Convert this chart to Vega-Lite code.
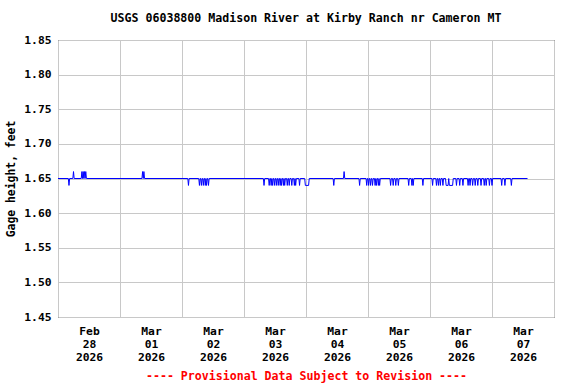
{
  "$schema": "https://vega.github.io/schema/vega-lite/v6.json",
  "width": 496,
  "height": 277,
  "autosize": "none",
  "padding": {"left": 58, "top": 40, "right": 22, "bottom": 67},
  "background": "white",
  "title": {
    "text": "USGS 06038800 Madison River at Kirby Ranch nr Cameron MT",
    "font": "DejaVu Sans Mono",
    "fontSize": 11.6,
    "fontWeight": "bold",
    "color": "black",
    "anchor": "middle",
    "offset": 9
  },
  "data": {
    "values": [
      {"t": "2026-02-28T00:00", "v": 1.65},
      {"t": "2026-02-28T04:00", "v": 1.65},
      {"t": "2026-02-28T04:15", "v": 1.64},
      {"t": "2026-02-28T04:30", "v": 1.65},
      {"t": "2026-02-28T05:45", "v": 1.65},
      {"t": "2026-02-28T06:00", "v": 1.66},
      {"t": "2026-02-28T06:15", "v": 1.65},
      {"t": "2026-02-28T09:00", "v": 1.65},
      {"t": "2026-02-28T09:15", "v": 1.66},
      {"t": "2026-02-28T09:30", "v": 1.65},
      {"t": "2026-02-28T09:45", "v": 1.66},
      {"t": "2026-02-28T10:00", "v": 1.65},
      {"t": "2026-02-28T10:15", "v": 1.66},
      {"t": "2026-02-28T10:30", "v": 1.65},
      {"t": "2026-02-28T10:45", "v": 1.66},
      {"t": "2026-02-28T11:00", "v": 1.65},
      {"t": "2026-03-01T08:30", "v": 1.65},
      {"t": "2026-03-01T08:45", "v": 1.66},
      {"t": "2026-03-01T09:00", "v": 1.65},
      {"t": "2026-03-01T09:15", "v": 1.66},
      {"t": "2026-03-01T09:30", "v": 1.65},
      {"t": "2026-03-02T02:15", "v": 1.65},
      {"t": "2026-03-02T02:30", "v": 1.64},
      {"t": "2026-03-02T02:45", "v": 1.65},
      {"t": "2026-03-02T06:30", "v": 1.65},
      {"t": "2026-03-02T06:45", "v": 1.64},
      {"t": "2026-03-02T07:00", "v": 1.65},
      {"t": "2026-03-02T07:15", "v": 1.65},
      {"t": "2026-03-02T07:30", "v": 1.64},
      {"t": "2026-03-02T07:45", "v": 1.65},
      {"t": "2026-03-02T08:00", "v": 1.65},
      {"t": "2026-03-02T08:15", "v": 1.64},
      {"t": "2026-03-02T08:30", "v": 1.65},
      {"t": "2026-03-02T08:45", "v": 1.65},
      {"t": "2026-03-02T09:00", "v": 1.64},
      {"t": "2026-03-02T09:15", "v": 1.65},
      {"t": "2026-03-02T09:30", "v": 1.64},
      {"t": "2026-03-02T09:45", "v": 1.65},
      {"t": "2026-03-02T10:00", "v": 1.65},
      {"t": "2026-03-02T10:15", "v": 1.64},
      {"t": "2026-03-02T10:30", "v": 1.65},
      {"t": "2026-03-03T07:30", "v": 1.65},
      {"t": "2026-03-03T07:45", "v": 1.64},
      {"t": "2026-03-03T08:00", "v": 1.65},
      {"t": "2026-03-03T09:30", "v": 1.65},
      {"t": "2026-03-03T09:45", "v": 1.64},
      {"t": "2026-03-03T10:00", "v": 1.65},
      {"t": "2026-03-03T10:15", "v": 1.65},
      {"t": "2026-03-03T10:30", "v": 1.64},
      {"t": "2026-03-03T10:45", "v": 1.65},
      {"t": "2026-03-03T11:00", "v": 1.64},
      {"t": "2026-03-03T11:15", "v": 1.65},
      {"t": "2026-03-03T11:30", "v": 1.65},
      {"t": "2026-03-03T11:45", "v": 1.64},
      {"t": "2026-03-03T12:00", "v": 1.65},
      {"t": "2026-03-03T12:15", "v": 1.65},
      {"t": "2026-03-03T12:30", "v": 1.64},
      {"t": "2026-03-03T12:45", "v": 1.65},
      {"t": "2026-03-03T13:00", "v": 1.65},
      {"t": "2026-03-03T13:15", "v": 1.64},
      {"t": "2026-03-03T13:30", "v": 1.65},
      {"t": "2026-03-03T13:45", "v": 1.65},
      {"t": "2026-03-03T14:00", "v": 1.64},
      {"t": "2026-03-03T14:15", "v": 1.65},
      {"t": "2026-03-03T14:30", "v": 1.64},
      {"t": "2026-03-03T14:45", "v": 1.65},
      {"t": "2026-03-03T15:00", "v": 1.65},
      {"t": "2026-03-03T15:15", "v": 1.64},
      {"t": "2026-03-03T15:30", "v": 1.65},
      {"t": "2026-03-03T15:45", "v": 1.64},
      {"t": "2026-03-03T16:00", "v": 1.65},
      {"t": "2026-03-03T16:30", "v": 1.65},
      {"t": "2026-03-03T16:45", "v": 1.64},
      {"t": "2026-03-03T17:00", "v": 1.65},
      {"t": "2026-03-03T17:15", "v": 1.65},
      {"t": "2026-03-03T17:30", "v": 1.64},
      {"t": "2026-03-03T17:45", "v": 1.65},
      {"t": "2026-03-03T18:15", "v": 1.65},
      {"t": "2026-03-03T18:30", "v": 1.64},
      {"t": "2026-03-03T18:45", "v": 1.65},
      {"t": "2026-03-03T19:15", "v": 1.65},
      {"t": "2026-03-03T19:30", "v": 1.64},
      {"t": "2026-03-03T19:45", "v": 1.65},
      {"t": "2026-03-03T20:00", "v": 1.64},
      {"t": "2026-03-03T20:15", "v": 1.65},
      {"t": "2026-03-03T21:15", "v": 1.65},
      {"t": "2026-03-03T21:30", "v": 1.64},
      {"t": "2026-03-03T21:45", "v": 1.65},
      {"t": "2026-03-03T23:30", "v": 1.65},
      {"t": "2026-03-03T23:45", "v": 1.64},
      {"t": "2026-03-04T01:00", "v": 1.64},
      {"t": "2026-03-04T01:15", "v": 1.65},
      {"t": "2026-03-04T10:30", "v": 1.65},
      {"t": "2026-03-04T10:45", "v": 1.64},
      {"t": "2026-03-04T11:00", "v": 1.65},
      {"t": "2026-03-04T14:30", "v": 1.65},
      {"t": "2026-03-04T14:45", "v": 1.66},
      {"t": "2026-03-04T15:00", "v": 1.65},
      {"t": "2026-03-04T20:30", "v": 1.65},
      {"t": "2026-03-04T20:45", "v": 1.64},
      {"t": "2026-03-04T21:00", "v": 1.65},
      {"t": "2026-03-04T23:15", "v": 1.65},
      {"t": "2026-03-04T23:30", "v": 1.64},
      {"t": "2026-03-04T23:45", "v": 1.65},
      {"t": "2026-03-05T00:00", "v": 1.65},
      {"t": "2026-03-05T00:15", "v": 1.64},
      {"t": "2026-03-05T00:30", "v": 1.65},
      {"t": "2026-03-05T00:45", "v": 1.65},
      {"t": "2026-03-05T01:00", "v": 1.64},
      {"t": "2026-03-05T01:15", "v": 1.65},
      {"t": "2026-03-05T01:30", "v": 1.65},
      {"t": "2026-03-05T01:45", "v": 1.64},
      {"t": "2026-03-05T02:00", "v": 1.65},
      {"t": "2026-03-05T02:30", "v": 1.65},
      {"t": "2026-03-05T02:45", "v": 1.64},
      {"t": "2026-03-05T03:00", "v": 1.65},
      {"t": "2026-03-05T03:15", "v": 1.64},
      {"t": "2026-03-05T03:30", "v": 1.65},
      {"t": "2026-03-05T03:45", "v": 1.65},
      {"t": "2026-03-05T04:00", "v": 1.64},
      {"t": "2026-03-05T04:15", "v": 1.65},
      {"t": "2026-03-05T04:30", "v": 1.64},
      {"t": "2026-03-05T04:45", "v": 1.65},
      {"t": "2026-03-05T08:30", "v": 1.65},
      {"t": "2026-03-05T08:45", "v": 1.64},
      {"t": "2026-03-05T09:00", "v": 1.65},
      {"t": "2026-03-05T09:30", "v": 1.65},
      {"t": "2026-03-05T09:45", "v": 1.64},
      {"t": "2026-03-05T10:00", "v": 1.65},
      {"t": "2026-03-05T10:30", "v": 1.65},
      {"t": "2026-03-05T10:45", "v": 1.64},
      {"t": "2026-03-05T11:00", "v": 1.65},
      {"t": "2026-03-05T11:30", "v": 1.65},
      {"t": "2026-03-05T11:45", "v": 1.64},
      {"t": "2026-03-05T12:00", "v": 1.65},
      {"t": "2026-03-05T15:30", "v": 1.65},
      {"t": "2026-03-05T15:45", "v": 1.64},
      {"t": "2026-03-05T16:00", "v": 1.65},
      {"t": "2026-03-05T16:45", "v": 1.65},
      {"t": "2026-03-05T17:00", "v": 1.64},
      {"t": "2026-03-05T17:15", "v": 1.65},
      {"t": "2026-03-05T17:30", "v": 1.64},
      {"t": "2026-03-05T17:45", "v": 1.65},
      {"t": "2026-03-05T21:00", "v": 1.65},
      {"t": "2026-03-05T21:15", "v": 1.64},
      {"t": "2026-03-05T21:30", "v": 1.65},
      {"t": "2026-03-06T00:45", "v": 1.65},
      {"t": "2026-03-06T01:00", "v": 1.64},
      {"t": "2026-03-06T01:15", "v": 1.65},
      {"t": "2026-03-06T02:15", "v": 1.65},
      {"t": "2026-03-06T02:30", "v": 1.64},
      {"t": "2026-03-06T02:45", "v": 1.65},
      {"t": "2026-03-06T03:00", "v": 1.65},
      {"t": "2026-03-06T03:15", "v": 1.64},
      {"t": "2026-03-06T03:30", "v": 1.65},
      {"t": "2026-03-06T03:45", "v": 1.65},
      {"t": "2026-03-06T04:00", "v": 1.64},
      {"t": "2026-03-06T04:15", "v": 1.65},
      {"t": "2026-03-06T04:45", "v": 1.65},
      {"t": "2026-03-06T05:00", "v": 1.64},
      {"t": "2026-03-06T05:15", "v": 1.65},
      {"t": "2026-03-06T06:00", "v": 1.65},
      {"t": "2026-03-06T06:15", "v": 1.64},
      {"t": "2026-03-06T07:00", "v": 1.64},
      {"t": "2026-03-06T07:15", "v": 1.65},
      {"t": "2026-03-06T07:30", "v": 1.64},
      {"t": "2026-03-06T08:45", "v": 1.64},
      {"t": "2026-03-06T09:00", "v": 1.65},
      {"t": "2026-03-06T10:00", "v": 1.65},
      {"t": "2026-03-06T10:15", "v": 1.64},
      {"t": "2026-03-06T10:30", "v": 1.65},
      {"t": "2026-03-06T11:15", "v": 1.65},
      {"t": "2026-03-06T11:30", "v": 1.64},
      {"t": "2026-03-06T11:45", "v": 1.65},
      {"t": "2026-03-06T12:30", "v": 1.65},
      {"t": "2026-03-06T12:45", "v": 1.64},
      {"t": "2026-03-06T13:00", "v": 1.65},
      {"t": "2026-03-06T14:30", "v": 1.65},
      {"t": "2026-03-06T14:45", "v": 1.64},
      {"t": "2026-03-06T15:00", "v": 1.65},
      {"t": "2026-03-06T15:15", "v": 1.65},
      {"t": "2026-03-06T15:30", "v": 1.64},
      {"t": "2026-03-06T15:45", "v": 1.65},
      {"t": "2026-03-06T16:15", "v": 1.65},
      {"t": "2026-03-06T16:30", "v": 1.64},
      {"t": "2026-03-06T16:45", "v": 1.65},
      {"t": "2026-03-06T17:15", "v": 1.65},
      {"t": "2026-03-06T17:30", "v": 1.64},
      {"t": "2026-03-06T17:45", "v": 1.65},
      {"t": "2026-03-06T18:15", "v": 1.65},
      {"t": "2026-03-06T18:30", "v": 1.64},
      {"t": "2026-03-06T18:45", "v": 1.65},
      {"t": "2026-03-06T19:30", "v": 1.65},
      {"t": "2026-03-06T19:45", "v": 1.64},
      {"t": "2026-03-06T20:00", "v": 1.65},
      {"t": "2026-03-06T20:45", "v": 1.65},
      {"t": "2026-03-06T21:00", "v": 1.64},
      {"t": "2026-03-06T21:15", "v": 1.65},
      {"t": "2026-03-06T21:30", "v": 1.65},
      {"t": "2026-03-06T21:45", "v": 1.64},
      {"t": "2026-03-06T22:00", "v": 1.65},
      {"t": "2026-03-06T22:45", "v": 1.65},
      {"t": "2026-03-06T23:00", "v": 1.64},
      {"t": "2026-03-06T23:15", "v": 1.65},
      {"t": "2026-03-06T23:45", "v": 1.65},
      {"t": "2026-03-07T00:00", "v": 1.64},
      {"t": "2026-03-07T00:15", "v": 1.65},
      {"t": "2026-03-07T03:30", "v": 1.65},
      {"t": "2026-03-07T03:45", "v": 1.64},
      {"t": "2026-03-07T04:00", "v": 1.65},
      {"t": "2026-03-07T04:45", "v": 1.65},
      {"t": "2026-03-07T05:00", "v": 1.64},
      {"t": "2026-03-07T05:15", "v": 1.65},
      {"t": "2026-03-07T07:15", "v": 1.65},
      {"t": "2026-03-07T07:30", "v": 1.64},
      {"t": "2026-03-07T07:45", "v": 1.65},
      {"t": "2026-03-07T13:45", "v": 1.65}
    ]
  },
  "mark": {"type": "line", "color": "#0000ff", "strokeWidth": 1, "interpolate": "linear"},
  "encoding": {
    "x": {
      "field": "t",
      "type": "temporal",
      "scale": {
        "domain": [
          {"year": 2026, "month": 2, "date": 28},
          {"year": 2026, "month": 3, "date": 8}
        ]
      },
      "axis": {
        "values": [
          {"year": 2026, "month": 2, "date": 28},
          {"year": 2026, "month": 3, "date": 1},
          {"year": 2026, "month": 3, "date": 2},
          {"year": 2026, "month": 3, "date": 3},
          {"year": 2026, "month": 3, "date": 4},
          {"year": 2026, "month": 3, "date": 5},
          {"year": 2026, "month": 3, "date": 6},
          {"year": 2026, "month": 3, "date": 7},
          {"year": 2026, "month": 3, "date": 8}
        ],
        "labelExpr": "(month(datum.value) == 2 && date(datum.value) == 8) ? '' : [timeFormat(datum.value, '%b'), timeFormat(datum.value, '%d'), timeFormat(datum.value, '%Y')]",
        "labelOffset": 31,
        "labelAlign": "center",
        "labelBaseline": "top",
        "labelPadding": 8,
        "labelLineHeight": 13,
        "labelOverlap": false,
        "labelBound": false,
        "labelFlush": false,
        "labelFont": "DejaVu Sans Mono",
        "labelFontSize": 11.3,
        "labelFontWeight": "bold",
        "labelColor": "black",
        "ticks": false,
        "domain": false,
        "grid": true,
        "gridColor": "#c8c8c8",
        "title": "---- Provisional Data Subject to Revision ----",
        "titleFont": "DejaVu Sans Mono",
        "titleFontSize": 11.6,
        "titleFontWeight": "bold",
        "titleColor": "#ff0000",
        "titlePadding": 8
      }
    },
    "y": {
      "field": "v",
      "type": "quantitative",
      "scale": {"domain": [1.45, 1.85], "nice": false, "zero": false},
      "axis": {
        "values": [1.45, 1.5, 1.55, 1.6, 1.65, 1.7, 1.75, 1.8, 1.85],
        "format": ".2f",
        "labelFont": "DejaVu Sans Mono",
        "labelFontSize": 11.3,
        "labelFontWeight": "bold",
        "labelColor": "black",
        "labelPadding": 7,
        "ticks": false,
        "domain": false,
        "grid": true,
        "gridColor": "#c8c8c8",
        "title": "Gage height, feet",
        "titleFont": "DejaVu Sans Mono",
        "titleFontSize": 11.4,
        "titleFontWeight": "bold",
        "titleColor": "black",
        "titlePadding": 7
      }
    }
  },
  "config": {
    "view": {"stroke": "black", "strokeWidth": 1}
  }
}
